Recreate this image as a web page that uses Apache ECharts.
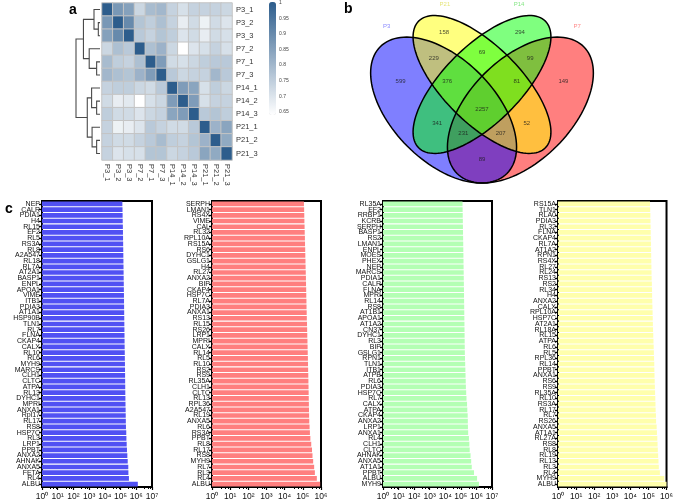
<!DOCTYPE html>
<html><head><meta charset="utf-8">
<script src="https://cdn.jsdelivr.net/npm/echarts@6/dist/echarts.min.js"></script>
<style>html,body{margin:0;padding:0;background:#fff}#c{width:676px;height:504px}</style>
</head><body><div id="c"></div>
<script>
// ---------- Panel a: correlation heatmap ----------
const samples = ['P3_1','P3_2','P3_3','P7_2','P7_1','P7_3','P14_1','P14_2','P14_3','P21_1','P21_2','P21_3'];
const corr = [
 [1.00,0.87,0.85,0.73,0.79,0.80,0.74,0.71,0.74,0.74,0.74,0.73],
 [0.87,1.00,0.90,0.77,0.75,0.78,0.74,0.68,0.72,0.67,0.72,0.70],
 [0.85,0.90,1.00,0.76,0.74,0.77,0.75,0.70,0.72,0.68,0.72,0.71],
 [0.73,0.78,0.76,1.00,0.78,0.81,0.73,0.64,0.70,0.71,0.74,0.71],
 [0.79,0.75,0.74,0.78,1.00,0.86,0.72,0.71,0.73,0.75,0.76,0.76],
 [0.80,0.78,0.77,0.81,0.86,1.00,0.76,0.73,0.74,0.74,0.80,0.76],
 [0.74,0.75,0.75,0.73,0.72,0.76,1.00,0.86,0.84,0.71,0.75,0.73],
 [0.72,0.68,0.69,0.64,0.71,0.73,0.86,1.00,0.86,0.71,0.74,0.74],
 [0.75,0.72,0.72,0.70,0.73,0.74,0.84,0.86,1.00,0.76,0.77,0.75],
 [0.74,0.67,0.68,0.70,0.76,0.74,0.72,0.72,0.76,1.00,0.81,0.84],
 [0.74,0.72,0.72,0.74,0.76,0.79,0.75,0.74,0.77,0.81,1.00,0.83],
 [0.74,0.70,0.71,0.71,0.77,0.77,0.73,0.74,0.76,0.84,0.83,1.00]
];
const colorbarMin = 0.64, colorbarMax = 1;
// dendrogram merges: [childA, childB, height]; ids 0..11 = leaves, 12+ = merged clusters in order
const dendroMerges = [
 [1,2,0.07],[0,12,0.25],[4,5,0.14],[3,14,0.45],[13,15,0.69],
 [7,8,0.14],[6,17,0.35],[10,11,0.14],[9,19,0.33],[18,20,0.53],[16,21,1.0]
];

// ---------- Panel b: Venn ----------
const vennSets = ['P3','P21','P14','P7'];
const vennCounts = [158,294,229,69,99,599,376,81,149,2257,341,52,231,207,89];
const vennCountX = [0.352,0.648,0.312,0.500,0.688,0.182,0.364,0.636,0.818,0.500,0.325,0.675,0.427,0.573,0.500];
const vennCountY = [0.772,0.772,0.674,0.694,0.674,0.583,0.583,0.583,0.583,0.472,0.420,0.420,0.381,0.381,0.277];
const vennSetLabelX = [0.128,0.355,0.645,0.872];
const vennSetLabelY = [0.797,0.882,0.882,0.797];
// ellipse geometry (draw order: P7, P3, P21, P14)
const ellOrder = ['P7','P3','P21','P14'];
const ellCx = [0.65,0.35,0.50,0.50];
const ellCy = [0.47,0.47,0.57,0.57];
const ellA  = [0.35,0.35,0.35,0.35];
const ellB  = [0.20,0.20,0.15,0.15];
const ellRot= [45,-45,-45,45];
const ellFill = ['rgba(255,0,0,0.5)','rgba(0,0,255,0.5)','rgba(255,255,0,0.5)','rgba(0,255,0,0.5)'];
const setLabelColors = ['#6b6bff','#dede55','#66e066','#ff6b6b'];

// ---------- Panel c: protein abundance bars ----------
const p3Proteins = ['NEP','CALR','PDIA1','H4','RL15','EF2','RL5','RS3A','RL8','A2A547','RL18','RL7A','AT2A1','BASP1','ENPL','APOA1','VIME','ITB1','PDIA3','AT1A1','HSP90B','TLN1','RL7','FLNA','CKAP4','CALX','RL10','RL6','MYH9','MARCS','CLH1','CLTC','ATPA','RL13','DYHC1','MPRI','ANXA1','Rpl17','RL17','RS8','HSP7C','RL3','LRP1','PPBT','ANXA2','AHNAK','ANXA5','FETA','RL4','ALBU'];
const p3Values = [1.30e5,1.33e5,1.35e5,1.37e5,1.40e5,1.42e5,1.44e5,1.46e5,1.48e5,1.50e5,
 1.52e5,1.54e5,1.56e5,1.58e5,1.60e5,1.62e5,1.64e5,1.66e5,1.68e5,1.70e5,
 1.72e5,1.74e5,1.76e5,1.78e5,1.80e5,1.82e5,1.85e5,1.87e5,1.90e5,1.92e5,
 1.94e5,1.96e5,1.98e5,2.00e5,2.03e5,2.06e5,2.10e5,2.13e5,2.16e5,2.20e5,
 2.30e5,2.35e5,2.45e5,2.55e5,2.70e5,2.85e5,3.10e5,3.15e5,3.40e5,1.25e6];
const p7Proteins = ['SERPH','LMAN1','RS4X','VIME','CAL','RL32','RPL10A','RS15A','RS6','DYHC1','GSLG1','H4','RL27','ANXA2','BIP','CKAP4','HSP7C','RL7A','PDIA3','ANXA1','RS13','RL15','RS26','LRP1','MPRI','CALX','RL14','RL5','RL10','RS2','RS9','RL35A','CLH1','CLTC','RL13','RPL36','A2A547','RL19','ANXA5','RL6','RS3A','PPBT','RL8','RL17','RS8','MYH9','RL7','RL3','RL4','ALBU'];
const p7Values = [1.15e5,1.18e5,1.20e5,1.22e5,1.25e5,1.27e5,1.30e5,1.32e5,1.35e5,1.37e5,
 1.40e5,1.42e5,1.45e5,1.48e5,1.50e5,1.53e5,1.55e5,1.58e5,1.60e5,1.63e5,
 1.66e5,1.70e5,1.73e5,1.76e5,1.80e5,1.83e5,1.86e5,1.90e5,1.93e5,1.96e5,
 2.00e5,2.03e5,2.06e5,2.09e5,2.12e5,2.15e5,2.18e5,2.22e5,2.26e5,2.35e5,
 2.45e5,2.60e5,2.90e5,3.20e5,3.40e5,3.70e5,4.20e5,4.60e5,5.90e5,9.00e5];
const p14Proteins = ['RL35A','EF2','RRBP1','KCRB','SERPH','BASP1','RS2','LMAN1','ENPL','MOES','PHEX','NEP','MARCS','PDIA1','CALR','FLNA','MPRI','RL14','RS8','AT1B1','APOA1','AT1A2','CN37','DYHC1','RL3','BIP','GSLG1','RPN1','TLN1','ITB1','ATPB','RL6','PDIA3','HSP7C','RL7','CALX','ATPA','CKAP4','ANXA2','LRP1','ANXA1','RL4','CLH1','CLTC','AHNAK','ANXA5','AT1A1','PPBT','ALBU','MYH9'];
const p14Values = [1.28e5,1.30e5,1.32e5,1.34e5,1.36e5,1.38e5,1.40e5,1.42e5,1.44e5,1.46e5,
 1.48e5,1.50e5,1.52e5,1.54e5,1.56e5,1.58e5,1.60e5,1.62e5,1.64e5,1.66e5,
 1.68e5,1.70e5,1.72e5,1.74e5,1.76e5,1.78e5,1.80e5,1.85e5,1.90e5,1.95e5,
 2.00e5,2.05e5,2.10e5,2.20e5,2.30e5,2.50e5,2.60e5,2.75e5,2.80e5,2.85e5,
 2.95e5,3.30e5,3.50e5,3.70e5,4.20e5,4.60e5,5.00e5,7.00e5,1.10e6,1.45e6];
const p21Proteins = ['RS15A','TLN1','RLA0','PDIA3','RL32','FLNA','CKAP4','RL7A','AT1A2','RPN1','RS4X','RL27','RL24','RS13','RS2','RL34','H4','ANXA2','CALX','RPL10A','HSP7C','AT2A1','RL18A','RL15','ATPA','RL6','RL5','RPL36','RL14','PPBT','ANXA1','RS6','RS9','RL35A','RL10','RS3A','RL17','RL7','RS26','ANXA5','AT1A1','RL27A','RS8','RL8','RL19','RL13','RL3','RL4','MYH9','ALBU'];
const p21Values = [1.22e5,1.25e5,1.28e5,1.30e5,1.32e5,1.34e5,1.36e5,1.38e5,1.40e5,1.42e5,
 1.44e5,1.46e5,1.48e5,1.50e5,1.55e5,1.58e5,1.60e5,1.63e5,1.66e5,1.70e5,
 1.73e5,1.76e5,1.80e5,1.85e5,1.90e5,1.95e5,2.00e5,2.05e5,2.10e5,2.13e5,
 2.17e5,2.22e5,2.27e5,2.33e5,2.40e5,2.45e5,2.50e5,2.60e5,2.65e5,2.85e5,
 2.95e5,3.10e5,3.20e5,3.30e5,3.45e5,3.60e5,3.75e5,4.30e5,7.50e5,1.00e6];
const xMaxExponents = [7,6,7,6];

// ================= build =================
const FONT = 'Liberation Sans, Arial, sans-serif';
const chart = echarts.init(document.getElementById('c'), null, {renderer:'canvas'});

// dendrogram segments from merges
const pos = samples.map((_, i) => i), hgt = samples.map(() => 0);
const dendroLines = [];
dendroMerges.forEach(([a, b, h]) => {
  dendroLines.push({coords: [[hgt[a], pos[a]], [h, pos[a]], [h, pos[b]], [hgt[b], pos[b]]]});
  pos.push((pos[a] + pos[b]) / 2); hgt.push(h);
});

const heatData = [];
corr.forEach((row, r) => row.forEach((v, c) => heatData.push([c, r, v])));

const ellData = ellCx.map((_, i) => [ellCx[i], ellCy[i], ellA[i], ellB[i], ellRot[i]]);
function ellipsePts(api, cx, cy, a, b, rot) {
  const th = rot * Math.PI / 180, pts = [];
  for (let k = 0; k < 120; k++) {
    const t = 2 * Math.PI * k / 120;
    pts.push(api.coord([cx + a*Math.cos(t)*Math.cos(th) - b*Math.sin(t)*Math.sin(th),
                        cy + a*Math.cos(t)*Math.sin(th) + b*Math.sin(t)*Math.cos(th)]));
  }
  return pts;
}

const sup = ['⁰','¹','²','³','⁴','⁵','⁶','⁷'];
const barPanels = [
  {names: p3Proteins, values: p3Values, left: 42, width: 110, color: '#5151f3'},
  {names: p7Proteins, values: p7Values, left: 212, width: 109, color: '#ff7f7f'},
  {names: p14Proteins, values: p14Values, left: 383, width: 109, color: '#b4ffb4'},
  {names: p21Proteins, values: p21Values, left: 558, width: 110, color: '#ffffac'}
];

const grids = [
  {left: 76, top: 3, width: 24, height: 157},            // 0 dendrogram
  {left: 102, top: 3, width: 130, height: 157},          // 1 heatmap
  {left: 269, top: 2, width: 7, height: 113},            // 2 colorbar axis
  {left: 354, top: 0, width: 256, height: 204.8}         // 3 venn
];
const xAxes = [
  {gridIndex: 0, type: 'value', min: 0, max: 1, inverse: true, show: false},
  {gridIndex: 1, type: 'category', data: samples, position: 'bottom',
   axisLine: {show: false}, axisTick: {show: false}, splitLine: {show: false},
   axisLabel: {rotate: -90, fontSize: 7.5, color: '#333', margin: 4, fontFamily: FONT, interval: 0}},
  {gridIndex: 2, type: 'value', show: false},
  {gridIndex: 3, type: 'value', min: 0, max: 1, show: false}
];
const yAxes = [
  {gridIndex: 0, type: 'value', min: -0.5, max: 11.5, inverse: true, show: false},
  {gridIndex: 1, type: 'category', data: samples, inverse: true, position: 'right',
   axisLine: {show: false}, axisTick: {show: false},
   axisLabel: {fontSize: 7.5, color: '#333', margin: 4, fontFamily: FONT, interval: 0}},
  {gridIndex: 2, type: 'value', min: colorbarMin, max: colorbarMax, interval: 0.01, position: 'right',
   axisLine: {show: false}, axisTick: {show: false}, splitLine: {show: false},
   axisLabel: {fontSize: 5, color: '#444', margin: 3, fontFamily: FONT,
     formatter: v => { const r = Math.round(v * 100); return r % 5 === 0 ? String(r / 100) : ''; }}},
  {gridIndex: 3, type: 'value', min: 0.1, max: 0.9, show: false}
];
const series = [
  {type: 'lines', coordinateSystem: 'cartesian2d', xAxisIndex: 0, yAxisIndex: 0, polyline: true,
   silent: true, data: dendroLines, lineStyle: {color: '#4a4a4a', width: 1.1, opacity: 1}},
  {type: 'heatmap', xAxisIndex: 1, yAxisIndex: 1, data: heatData, silent: true,
   itemStyle: {borderColor: '#c4c4c4', borderWidth: 1}},
  {type: 'custom', xAxisIndex: 3, yAxisIndex: 3, data: ellData, encode: {x: 0, y: 1}, silent: true,
   renderItem: (params, api) => ({type: 'polygon',
     shape: {points: ellipsePts(api, api.value(0), api.value(1), api.value(2), api.value(3), api.value(4))},
     style: {fill: ellFill[params.dataIndex], stroke: null}})},
  {type: 'custom', xAxisIndex: 3, yAxisIndex: 3, data: ellData, encode: {x: 0, y: 1}, silent: true,
   renderItem: (params, api) => ({type: 'polygon',
     shape: {points: ellipsePts(api, api.value(0), api.value(1), api.value(2), api.value(3), api.value(4))},
     style: {fill: null, stroke: '#000', lineWidth: 1.5}})},
  {type: 'scatter', xAxisIndex: 3, yAxisIndex: 3, symbolSize: 0, silent: true,
   data: vennCounts.map((c, i) => ({value: [vennCountX[i], vennCountY[i]], name: String(c)})),
   label: {show: true, position: 'inside', formatter: p => p.name, fontSize: 6, color: '#1a1a1a', fontFamily: FONT}},
  {type: 'scatter', xAxisIndex: 3, yAxisIndex: 3, symbolSize: 0, silent: true,
   data: vennSets.map((s, i) => ({value: [vennSetLabelX[i], vennSetLabelY[i]], name: s,
     label: {color: setLabelColors[i]}})),
   label: {show: true, position: 'inside', formatter: p => p.name, fontSize: 6, fontFamily: FONT}}
];

barPanels.forEach((p, i) => {
  const gi = grids.length;
  grids.push({left: p.left, top: 201, width: p.width, height: 286, show: true,
              borderColor: '#000', borderWidth: 2, backgroundColor: 'transparent'});
  xAxes.push({gridIndex: gi, type: 'log', logBase: 10, min: 1, max: Math.pow(10, xMaxExponents[i]),
    splitNumber: xMaxExponents[i],
    axisLine: {show: true, lineStyle: {color: '#000', width: 2}},
    axisTick: {show: true, length: 3, lineStyle: {color: '#000', width: 1.2}},
    minorTick: {show: true, splitNumber: 4, length: 2, lineStyle: {color: '#000', width: 1}},
    splitLine: {show: false},
    axisLabel: {fontSize: 8.5, color: '#111', margin: 5, fontFamily: FONT,
      formatter: v => '10' + sup[Math.round(Math.log10(v))]}});
  yAxes.push({gridIndex: gi, type: 'category', data: p.names, inverse: true,
    axisLine: {show: true, lineStyle: {color: '#000', width: 2}},
    axisTick: {show: true, length: 3, alignWithLabel: true, lineStyle: {color: '#000', width: 1.4}},
    axisLabel: {fontSize: 7, color: '#111', margin: 2, interval: 0, fontFamily: FONT}});
  series.push({type: 'bar', xAxisIndex: gi, yAxisIndex: gi, data: p.values, silent: true,
    barCategoryGap: '18%', itemStyle: {color: p.color}});
});

chart.setOption({
  animation: false,
  backgroundColor: '#fff',
  title: [
    {text: 'a', left: 64, top: -2, textStyle: {fontSize: 14, fontWeight: 'bold', fontFamily: FONT, color: '#000'}},
    {text: 'b', left: 339, top: -3, textStyle: {fontSize: 14, fontWeight: 'bold', fontFamily: FONT, color: '#000'}},
    {text: 'c', left: 0, top: 197, textStyle: {fontSize: 14, fontWeight: 'bold', fontFamily: FONT, color: '#000'}}
  ],
  visualMap: {type: 'continuous', seriesIndex: 1, dimension: 2, min: colorbarMin, max: colorbarMax,
    orient: 'vertical', left: 269, top: 2, itemWidth: 7, itemHeight: 113, padding: 0,
    calculable: false, hoverLink: false, text: null,
    inRange: {color: ['#ffffff', '#2d5d8c']}},
  grid: grids, xAxis: xAxes, yAxis: yAxes, series: series
});
</script></body></html>
